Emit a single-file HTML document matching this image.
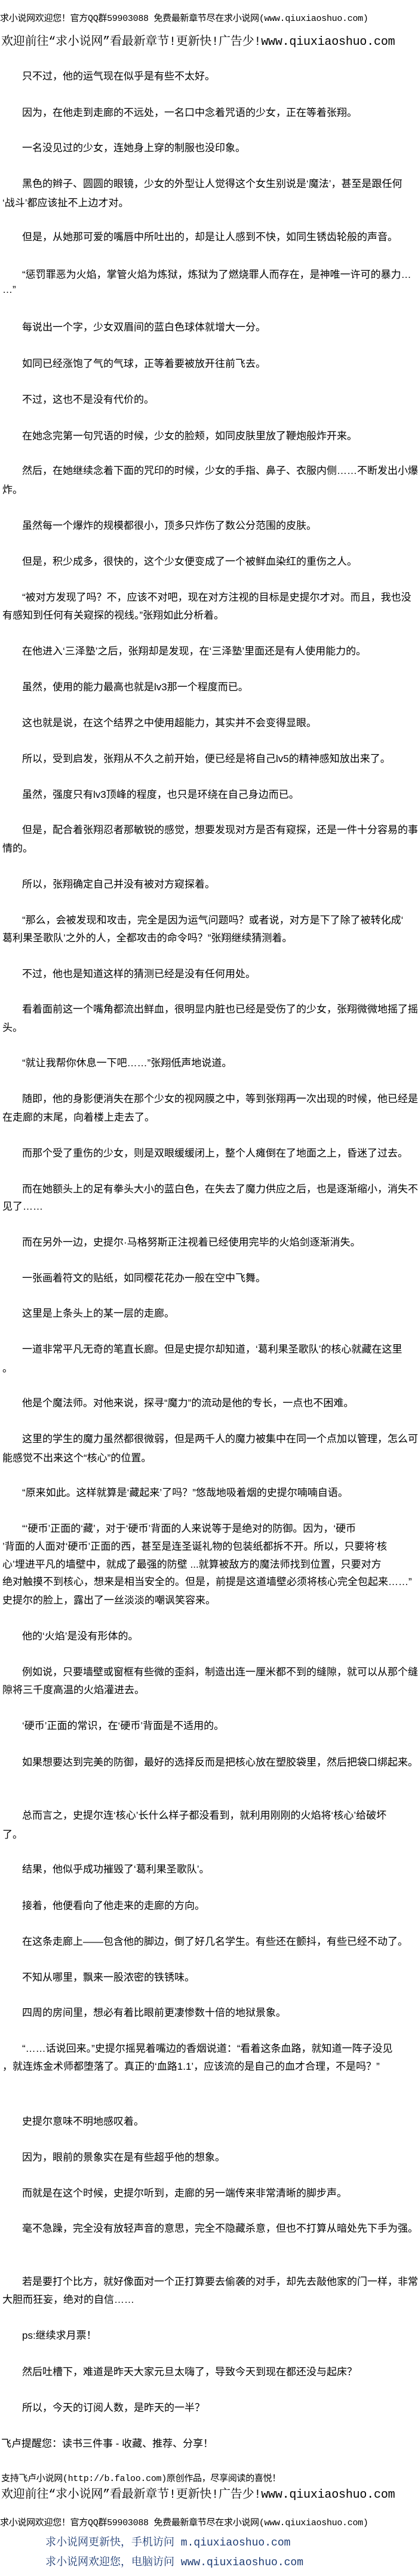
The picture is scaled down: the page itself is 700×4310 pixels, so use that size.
<!DOCTYPE html>
<html><head><meta charset="utf-8">
<style>
html,body{margin:0;padding:0;background:#fff;}
body{width:700px;height:4310px;position:relative;overflow:hidden;color:#000;
font-family:"Liberation Sans","Noto Sans CJK SC",sans-serif;}
.l{position:absolute;left:4px;white-space:nowrap;font-size:17px;line-height:30px;height:30px;}
.i{left:37px;}
.h1{font-size:15px;left:0;font-family:"Liberation Mono","Noto Sans CJK SC",monospace;letter-spacing:-0.3px;}
.h2{font-size:20px;left:2px;font-family:"Liberation Mono","Noto Serif CJK SC",serif;letter-spacing:-0.2px;}
.b{font-size:18px;left:76px;color:#1d3b73;font-family:"Liberation Mono","Noto Serif CJK SC",serif;}
.s{font-size:15px;left:2px;font-family:"Liberation Mono","Noto Sans CJK SC",monospace;letter-spacing:-0.3px;}
</style></head><body>
<div class="l h1" style="top:17px">求小说网欢迎您！官方QQ群59903088 免费最新章节尽在求小说网(www.qiuxiaoshuo.com)</div>
<div class="l h2" style="top:56px">欢迎前往“求小说网”看最新章节!更新快!广告少!www.qiuxiaoshuo.com</div>

<div class="l i" style="top:113px">只不过，他的运气现在似乎是有些不太好。</div>
<div class="l i" style="top:174px">因为，在他走到走廊的不远处，一名口中念着咒语的少女，正在等着张翔。</div>
<div class="l i" style="top:233px">一名没见过的少女，连她身上穿的制服也没印象。</div>
<div class="l i" style="top:293px">黑色的辫子、圆圆的眼镜，少女的外型让人觉得这个女生别说是‘魔法’，甚至是跟任何</div>
<div class="l" style="top:325px">‘战斗’都应该扯不上边才对。</div>
<div class="l i" style="top:382px">但是，从她那可爱的嘴唇中所吐出的，却是让人感到不快，如同生锈齿轮般的声音。</div>
<div class="l i" style="top:445px">“惩罚罪恶为火焰，掌管火焰为炼狱，炼狱为了燃烧罪人而存在，是神唯一许可的暴力…</div>
<div class="l" style="top:470px">…”</div>
<div class="l i" style="top:533px">每说出一个字，少女双眉间的蓝白色球体就增大一分。</div>
<div class="l i" style="top:594px">如同已经涨饱了气的气球，正等着要被放开往前飞去。</div>
<div class="l i" style="top:654px">不过，这也不是没有代价的。</div>
<div class="l i" style="top:715px">在她念完第一句咒语的时候，少女的脸颊，如同皮肤里放了鞭炮般炸开来。</div>
<div class="l i" style="top:773px">然后，在她继续念着下面的咒印的时候，少女的手指、鼻子、衣服内侧……不断发出小爆</div>
<div class="l" style="top:805px">炸。</div>
<div class="l i" style="top:865px">虽然每一个爆炸的规模都很小，顶多只炸伤了数公分范围的皮肤。</div>
<div class="l i" style="top:925px">但是，积少成多，很快的，这个少女便变成了一个被鲜血染红的重伤之人。</div>
<div class="l i" style="top:985px">“被对方发现了吗？不，应该不对吧，现在对方注视的目标是史提尔才对。而且，我也没</div>
<div class="l" style="top:1015px">有感知到任何有关窥探的视线。”张翔如此分析着。</div>
<div class="l i" style="top:1075px">在他进入‘三泽塾’之后，张翔却是发现，在‘三泽塾’里面还是有人使用能力的。</div>
<div class="l i" style="top:1135px">虽然，使用的能力最高也就是lv3那一个程度而已。</div>
<div class="l i" style="top:1195px">这也就是说，在这个结界之中使用超能力，其实并不会变得显眼。</div>
<div class="l i" style="top:1255px">所以，受到启发，张翔从不久之前开始，便已经是将自己lv5的精神感知放出来了。</div>
<div class="l i" style="top:1315px">虽然，强度只有lv3顶峰的程度，也只是环绕在自己身边而已。</div>
<div class="l i" style="top:1374px">但是，配合着张翔忍者那敏锐的感觉，想要发现对方是否有窥探，还是一件十分容易的事</div>
<div class="l" style="top:1405px">情的。</div>
<div class="l i" style="top:1465px">所以，张翔确定自己并没有被对方窥探着。</div>
<div class="l i" style="top:1525px">“那么，会被发现和攻击，完全是因为运气问题吗？或者说，对方是下了除了被转化成‘</div>
<div class="l" style="top:1555px">葛利果圣歌队’之外的人，全都攻击的命令吗？”张翔继续猜测着。</div>
<div class="l i" style="top:1615px">不过，他也是知道这样的猜测已经是没有任何用处。</div>
<div class="l i" style="top:1674px">看着面前这一个嘴角都流出鲜血，很明显内脏也已经是受伤了的少女，张翔微微地摇了摇</div>
<div class="l" style="top:1705px">头。</div>
<div class="l i" style="top:1764px">“就让我帮你休息一下吧……”张翔低声地说道。</div>
<div class="l i" style="top:1824px">随即，他的身影便消失在那个少女的视网膜之中，等到张翔再一次出现的时候，他已经是</div>
<div class="l" style="top:1855px">在走廊的末尾，向着楼上走去了。</div>
<div class="l i" style="top:1915px">而那个受了重伤的少女，则是双眼缓缓闭上，整个人瘫倒在了地面之上，昏迷了过去。</div>
<div class="l i" style="top:1975px">而在她额头上的足有拳头大小的蓝白色，在失去了魔力供应之后，也是逐渐缩小，消失不</div>
<div class="l" style="top:2004px">见了……</div>
<div class="l i" style="top:2064px">而在另外一边，史提尔·马格努斯正注视着已经使用完毕的火焰剑逐渐消失。</div>
<div class="l i" style="top:2124px">一张画着符文的贴纸，如同樱花花办一般在空中飞舞。</div>
<div class="l i" style="top:2183px">这里是上条头上的某一层的走廊。</div>
<div class="l i" style="top:2243px">一道非常平凡无奇的笔直长廊。但是史提尔却知道，‘葛利果圣歌队’的核心就藏在这里</div>
<div class="l" style="top:2275px">。</div>
<div class="l i" style="top:2333px">他是个魔法师。对他来说，探寻“魔力”的流动是他的专长，一点也不困难。</div>
<div class="l i" style="top:2393px">这里的学生的魔力虽然都很微弱，但是两千人的魔力被集中在同一个点加以管理，怎么可</div>
<div class="l" style="top:2425px">能感觉不出来这个“核心”的位置。</div>
<div class="l i" style="top:2483px">“原来如此。这样就算是‘藏起来’了吗？”悠哉地吸着烟的史提尔喃喃自语。</div>
<div class="l i" style="top:2543px">“‘硬币’正面的‘藏’，对于‘硬币’背面的人来说等于是绝对的防御。因为，‘硬币</div>
<div class="l" style="top:2573px">’背面的人面对‘硬币’正面的西，甚至是连圣诞礼物的包装纸都拆不开。所以，只要将‘核</div>
<div class="l" style="top:2603px">心’埋进平凡的墙壁中，就成了最强的防壁 ...就算被敌方的魔法师找到位置，只要对方</div>
<div class="l" style="top:2632px">绝对触摸不到核心，想来是相当安全的。但是，前提是这道墙壁必须将核心完全包起来……”</div>
<div class="l" style="top:2663px">史提尔的脸上，露出了一丝淡淡的嘲讽笑容来。</div>
<div class="l i" style="top:2723px">他的‘火焰’是没有形体的。</div>
<div class="l i" style="top:2783px">例如说，只要墙壁或窗框有些微的歪斜，制造出连一厘米都不到的缝隙，就可以从那个缝</div>
<div class="l" style="top:2813px">隙将三千度高温的火焰灌进去。</div>
<div class="l i" style="top:2873px">‘硬币’正面的常识，在‘硬币’背面是不适用的。</div>
<div class="l i" style="top:2934px">如果想要达到完美的防御，最好的选择反而是把核心放在塑胶袋里，然后把袋口绑起来。</div>
<div class="l i" style="top:3023px">总而言之，史提尔连‘核心’长什么样子都没看到，就利用刚刚的火焰将‘核心’给破坏</div>
<div class="l" style="top:3055px">了。</div>
<div class="l i" style="top:3113px">结果，他似乎成功摧毁了‘葛利果圣歌队’。</div>
<div class="l i" style="top:3174px">接着，他便看向了他走来的走廊的方向。</div>
<div class="l i" style="top:3234px">在这条走廊上——包含他的脚边，倒了好几名学生。有些还在颤抖，有些已经不动了。</div>
<div class="l i" style="top:3294px">不知从哪里，飘来一股浓密的铁锈味。</div>
<div class="l i" style="top:3353px">四周的房间里，想必有着比眼前更凄惨数十倍的地狱景象。</div>
<div class="l i" style="top:3413px">“……话说回来。”史提尔摇晃着嘴边的香烟说道：“看着这条血路，就知道一阵子没见</div>
<div class="l" style="top:3443px">，就连炼金术师都堕落了。真正的‘血路1.1’，应该流的是自己的血才合理，不是吗？”</div>
<div class="l i" style="top:3535px">史提尔意味不明地感叹着。</div>
<div class="l i" style="top:3595px">因为，眼前的景象实在是有些超乎他的想象。</div>
<div class="l i" style="top:3655px">而就是在这个时候，史提尔听到，走廊的另一端传来非常清晰的脚步声。</div>
<div class="l i" style="top:3714px">毫不急躁，完全没有放轻声音的意思，完全不隐藏杀意，但也不打算从暗处先下手为强。</div>
<div class="l i" style="top:3803px">若是要打个比方，就好像面对一个正打算要去偷袭的对手，却先去敲他家的门一样，非常</div>
<div class="l" style="top:3833px">大胆而狂妄，绝对的自信……</div>
<div class="l i" style="top:3893px">ps:继续求月票！</div>
<div class="l i" style="top:3954px">然后吐槽下，难道是昨天大家元旦太嗨了，导致今天到现在都还没与起床？</div>
<div class="l i" style="top:4014px">所以，今天的订阅人数，是昨天的一半？</div>
<div class="l" style="top:4074px;left:2px">飞卢提醒您：读书三件事 - 收藏、推荐、分享！</div>
<div class="l s" style="top:4133px">支持飞卢小说网(http://b.faloo.com)原创作品，尽享阅读的喜悦！</div>
<div class="l h2" style="top:4160px">欢迎前往“求小说网”看最新章节!更新快!广告少!www.qiuxiaoshuo.com</div>
<div class="l h1" style="top:4207px">求小说网欢迎您！官方QQ群59903088 免费最新章节尽在求小说网(www.qiuxiaoshuo.com)</div>
<div class="l b" style="top:4240px">求小说网更新快，手机访问 m.qiuxiaoshuo.com</div>
<div class="l b" style="top:4273px">求小说网欢迎您，电脑访问 www.qiuxiaoshuo.com</div>
</body></html>
